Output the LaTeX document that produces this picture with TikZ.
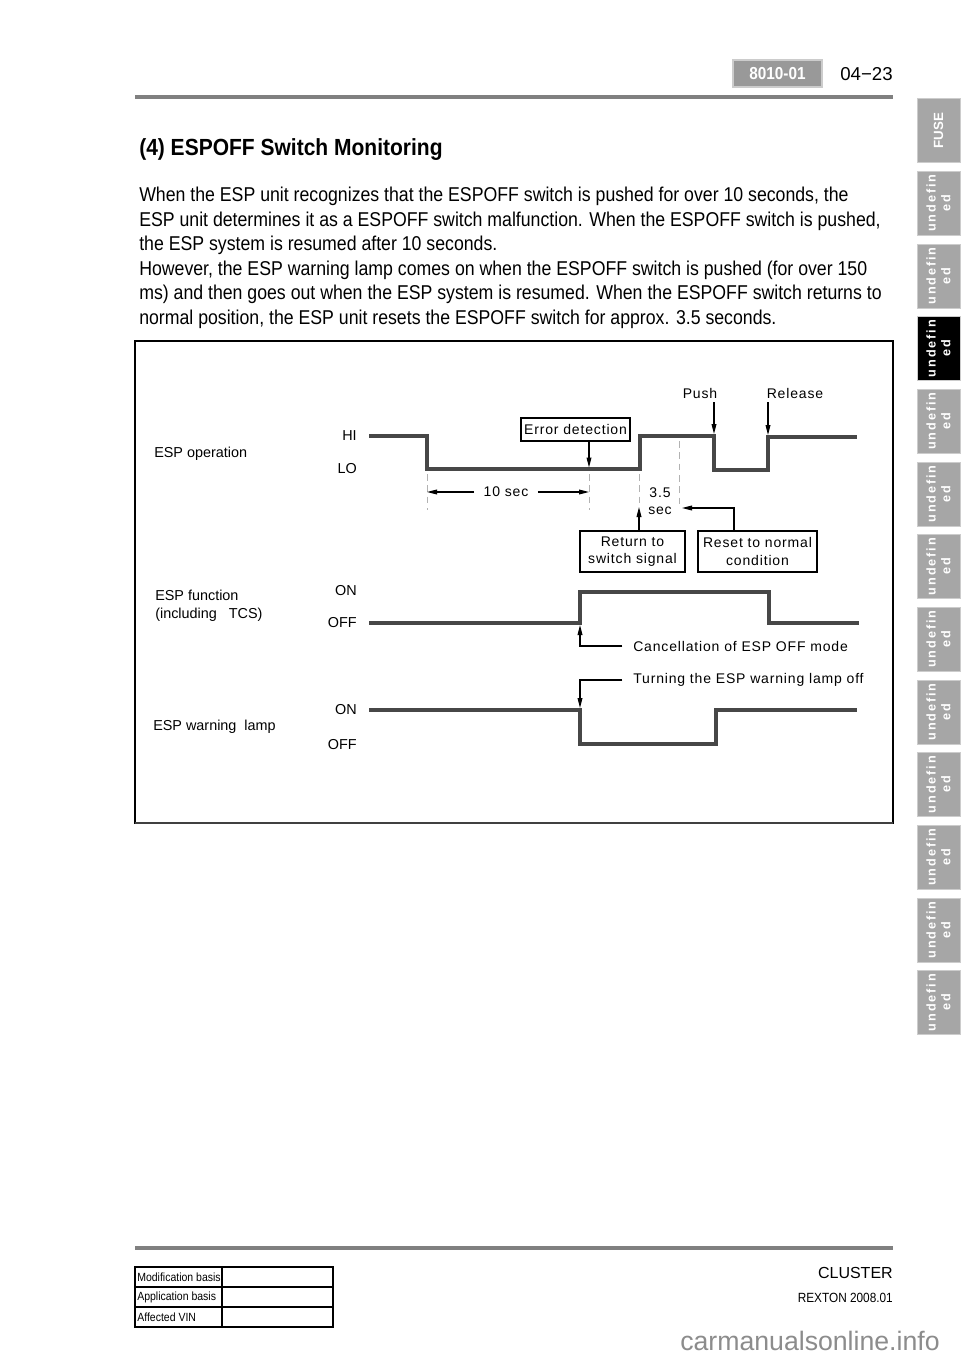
\documentclass[tikz,border=0pt]{standalone}
\usepackage{fontspec}
\setmainfont{Liberation Sans}
\newfontfamily\bodyfont[FakeStretch=0.885]{Liberation Sans}
\newfontfamily\titlefont[FakeStretch=0.9]{Liberation Sans}
\newfontfamily\diagfont[LetterSpace=6]{Liberation Sans}
\newfontfamily\tabfont[LetterSpace=15]{Liberation Sans}
\usetikzlibrary{arrows.meta,positioning}

\begin{document}
\begin{tikzpicture}[x=0.75pt,y=-0.75pt,
  sig/.style={line width=2.4pt,draw=black!72},
  callout/.style={line width=0.8pt,-{Triangle[length=7.5pt,width=3.6pt]}},
  guide/.style={draw=black!30,line width=0.6pt,dash pattern=on 5pt off 3.5pt},
  lbl/.style={font=\diagfont\fontsize{10.5}{12.8}\selectfont,inner sep=0},
  side/.style={font=\fontsize{10.8}{13.5}\selectfont,inner sep=0},
  box/.style={draw,line width=1.1pt,fill=white,inner sep=0,align=center,
    font=\diagfont\fontsize{10.5}{12.8}\selectfont},
  body/.style={font=\bodyfont\fontsize{15}{18}\selectfont,inner sep=0,anchor=base west},
  tab/.style={fill=black!35,draw=black!20,line width=0.5pt,minimum width=48pt,
    minimum height=32.25pt,inner sep=0,text=white,rotate=90,align=center,
    font=\tabfont\bfseries\fontsize{9.5}{11}\selectfont},
]
\fill[white] (0,0) rectangle (960,1358);

% header
\node[fill=black!40,draw=black!20,line width=0.8pt,minimum width=66.75pt,minimum height=20.25pt,
  inner sep=0,text=white,font=\bodyfont\bfseries\fontsize{13}{15}\selectfont] (code) at (777.5,73.5) {8010-01};
\node[inner sep=0,anchor=east,font=\fontsize{14}{16}\selectfont] (page) at (893,74) {04−23};
\draw[line width=3pt,black!50] (135,97) -- (893,97);

% side tabs
\node[tab,font=\bfseries\fontsize{10}{11}\selectfont] (tab0) at (938.5,130.5) {FUSE};
\foreach \i in {1,...,12}{
  \ifnum\i=3
    \node[tab,fill=black] (tab\i) at (938.5,130.5+72.67*\i) {undefin\\ed};
  \else
    \node[tab] (tab\i) at (938.5,130.5+72.67*\i) {undefin\\ed};
  \fi
}

% text
\node[body,font=\titlefont\bfseries\fontsize{17.5}{20}\selectfont] (title) at (139,156) {(4) ESPOFF Switch Monitoring};
\node[body] (l1) at (139,202) {When the ESP unit recognizes that the ESPOFF switch is pushed for over 10 seconds, the};
\node[body] (l2) at (139,226.5) {ESP unit determines it as a ESPOFF switch malfunction. When the ESPOFF switch is pushed,};
\node[body] (l3) at (139,251) {the ESP system is resumed after 10 seconds.};
\node[body] (l4) at (139,275.5) {However, the ESP warning lamp comes on when the ESPOFF switch is pushed (for over 150};
\node[body] (l5) at (139,300) {ms) and then goes out when the ESP system is resumed. When the ESPOFF switch returns to};
\node[body] (l6) at (139,324.5) {normal position, the ESP unit resets the ESPOFF switch for approx. 3.5 seconds.};

% frame
\draw[line width=0.9pt] (135,341) rectangle (893,823);
\draw[line width=1.3pt] (893,341) -- (893,823);
\draw[line width=2pt,black!75] (135,823) -- (893,823);

% ESP operation
\node[side,anchor=base west] (espop) at (154,457) {ESP operation};
\node[side,anchor=east] (hi) at (357,436) {HI};
\node[side,anchor=east] (lo) at (357,469) {LO};
\draw[sig] (369,436) -- (427,436) -- (427,469) -- (640,469) -- (640,436) -- (714,436)
  -- (714,470) -- (768,470) -- (768,437) -- (857,437);
\draw[guide] (427,474) -- (427,510);
\draw[guide] (589,474) -- (589,510);
\draw[guide] (639,474) -- (639,503);
\draw[guide] (679,441) -- (679,508);

\node[box,minimum width=81.75pt,minimum height=17.25pt] (errbox) at (575.5,429.5) {Error detection};
\coordinate (errpt) at (589,467.5);
\draw[callout] (errbox.south -| errpt) -- (errpt);

\node[lbl] (push) at (700,393) {Push};
\node[lbl] (release) at (795,393) {Release};
\coordinate (pushpt) at (714,434);
\coordinate (relpt) at (768,435);
\draw[callout,shorten <=3pt] (push.south -| pushpt) -- (pushpt);
\draw[callout,shorten <=3pt] (release.south -| relpt) -- (relpt);

\node[lbl] (tensec) at (506,492) {10 sec};
\coordinate (t0) at (427,492);
\coordinate (t1) at (589,492);
\draw[callout,shorten <=7pt] (tensec.west) -- (t0);
\draw[callout,shorten <=7pt] (tensec.east) -- (t1);
\node[lbl,align=center] (t35) at (660,501.5) {3.5\\sec};

\node[box,minimum width=78.75pt,minimum height=30.75pt] (retbox) at (632.5,551.5) {Return to\\switch signal};
\node[box,minimum width=89.25pt,minimum height=30.75pt] (resbox) at (757.5,551.5) {Reset to normal\\condition};
\coordinate (retpt) at (639,507);
\coordinate (resturn) at (734,508);
\coordinate (respt) at (682,508);
\draw[callout] (retbox.north -| retpt) -- (retpt);
\draw[callout] (resbox.north -| resturn) -- (resturn) -- (respt);

% ESP function
\node[side,anchor=west,align=left] (espfn) at (155,606) {ESP function\\(including \ \ TCS)};
\node[side,anchor=east] (on1) at (357,591) {ON};
\node[side,anchor=east] (off1) at (357,623) {OFF};
\draw[sig] (369,623) -- (580,623) -- (580,592) -- (769,592) -- (769,623) -- (859,623);
\node[lbl,anchor=west] (canc) at (633,646) {Cancellation of ESP OFF mode};
\coordinate (cancpt) at (580,625);
\draw[callout] ([xshift=-8pt]canc.west) -| (cancpt);

% ESP warning lamp
\node[lbl,anchor=west] (turn) at (633,680) {Turning the ESP warning lamp off};
\node[side,anchor=base west] (lamp) at (153,730) {ESP warning \ lamp};
\node[side,anchor=east] (on2) at (357,710) {ON};
\node[side,anchor=east] (off2) at (357,745) {OFF};
\draw[sig] (369,710) -- (580,710) -- (580,744) -- (716,744) -- (716,710) -- (857,710);
\coordinate (turnpt) at (580,708);
\draw[callout] ([xshift=-8pt]turn.west) -| (turnpt);

% footer
\draw[line width=3pt,black!50] (135,1248) -- (893,1248);
\draw[line width=0.9pt] (135,1267) rectangle (333,1327);
\draw[line width=0.9pt] (135,1287) -- (333,1287);
\draw[line width=0.9pt] (135,1307) -- (333,1307);
\draw[line width=0.9pt] (222,1267) -- (222,1327);
\node[anchor=west,inner sep=0,font=\bodyfont\fontsize{8.9}{10}\selectfont] (mod) at (137,1277) {Modification basis};
\node[anchor=west,inner sep=0,font=\bodyfont\fontsize{8.9}{10}\selectfont] (app) at (137,1297) {Application basis};
\node[anchor=west,inner sep=0,font=\bodyfont\fontsize{8.9}{10}\selectfont] (vin) at (137,1317) {Affected VIN};
\node[anchor=base east,inner sep=0,font=\fontsize{12}{14}\selectfont] (cluster) at (893,1278) {CLUSTER};
\node[anchor=base east,inner sep=0,font=\bodyfont\fontsize{10}{12}\selectfont] (rexton) at (893,1302) {REXTON 2008.01};
\node[anchor=base west,inner sep=0,text=black!45,font=\fontsize{20}{22}\selectfont] (wm) at (680,1350) {carmanualsonline.info};
\end{tikzpicture}
\end{document}
